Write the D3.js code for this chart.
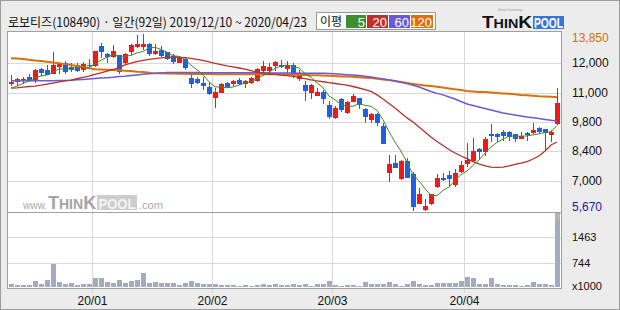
<!DOCTYPE html>
<html><head><meta charset="utf-8">
<script src="https://cdn.jsdelivr.net/npm/d3@7/dist/d3.min.js"></script>
<style>html,body{margin:0;padding:0;background:#ececec;}svg{display:block;}</style>
</head><body><svg id="c" width="620" height="310"></svg>
<script>
// ---------- data ----------
const title = "로보티즈(108490) · 일간(92일) 2019/12/10 ~ 2020/04/23";
const dates = [
"2019-12-10","2019-12-11","2019-12-12","2019-12-13","2019-12-16","2019-12-17","2019-12-18","2019-12-19","2019-12-20","2019-12-23","2019-12-24","2019-12-26","2019-12-27","2019-12-30",
"2020-01-02","2020-01-03","2020-01-06","2020-01-07","2020-01-08","2020-01-09","2020-01-10","2020-01-13","2020-01-14","2020-01-15","2020-01-16","2020-01-17","2020-01-20","2020-01-21","2020-01-22","2020-01-23","2020-01-28","2020-01-29","2020-01-30","2020-01-31",
"2020-02-03","2020-02-04","2020-02-05","2020-02-06","2020-02-07","2020-02-10","2020-02-11","2020-02-12","2020-02-13","2020-02-14","2020-02-17","2020-02-18","2020-02-19","2020-02-20","2020-02-21","2020-02-24","2020-02-25","2020-02-26","2020-02-27","2020-02-28",
"2020-03-02","2020-03-03","2020-03-04","2020-03-05","2020-03-06","2020-03-09","2020-03-10","2020-03-11","2020-03-12","2020-03-13","2020-03-16","2020-03-17","2020-03-18","2020-03-19","2020-03-20","2020-03-23","2020-03-24","2020-03-25","2020-03-26","2020-03-27","2020-03-30","2020-03-31",
"2020-04-01","2020-04-02","2020-04-03","2020-04-06","2020-04-07","2020-04-08","2020-04-09","2020-04-10","2020-04-13","2020-04-14","2020-04-16","2020-04-17","2020-04-20","2020-04-21","2020-04-22","2020-04-23"];
const open  = [11570,11670,11710,11870,11710,12240,12180,12020,12360,12500,12330,12420,12240,12420,12410,13290,12910,12840,12870,12560,13070,13310,13290,13390,12980,13110,13000,12840,12560,12690,11790,11760,11590,11400,10940,11170,11590,11560,11710,11560,11630,11710,12180,12180,12400,12420,12270,12420,11820,11480,11170,11020,11170,10550,10010,10830,10240,10750,10860,10360,9890,10130,9570,7450,7870,7140,7950,7340,6010,5700,6010,6800,7170,7300,6880,7500,7870,7990,8490,8430,9200,9200,9310,9310,9190,9030,9260,9310,9480,9420,9200,9730];
const high  = [11950,11820,11870,11990,12220,12280,12400,13010,12490,12600,12490,12490,12550,12670,13070,13420,12980,13340,12890,12950,13370,13800,13850,13450,13370,13290,13030,12920,12830,12720,12050,11870,11840,11630,11350,11590,11630,11710,11790,11710,11870,12260,12600,12490,12600,12640,12600,12490,12180,11680,11510,11330,11250,10750,10500,10860,10740,11050,10890,10400,10160,10160,9700,8230,8230,7990,8070,7450,6680,6170,6410,7340,7400,7500,7560,7960,8770,9000,8540,9050,9650,9260,9390,9340,9200,9310,9310,9700,9540,9450,9390,11350];
const low   = [11480,11480,11590,11670,11630,11940,11980,12020,12050,12020,12130,12140,12140,12330,12380,12800,12530,12800,12050,12490,12910,13260,13140,12870,12920,12830,12690,12490,12550,12210,11400,11560,11280,11050,10470,11140,11400,11480,11510,11400,11590,11680,12100,12100,12180,12330,12050,11870,11710,10780,10890,11020,10660,9930,9960,10270,10190,10740,10430,9770,9770,9620,8790,7030,7680,7110,7220,5670,5980,5670,5950,6750,7060,6830,6800,7450,7720,7950,8070,8230,8890,8880,8920,8920,8890,9000,8920,9260,9310,8510,8880,9670];
const close = [11620,11760,11760,11710,12180,12080,12000,12420,12470,12140,12210,12180,12460,12400,13060,13070,12840,13060,12140,12920,13340,13390,13390,12980,13060,12860,12720,12600,12800,12330,11560,11630,11480,11120,11170,11530,11450,11670,11560,11670,11790,12210,12360,12330,12560,12360,12410,12050,11980,11250,11480,11170,10890,10040,10400,10360,10700,10970,10600,10040,10130,9770,8800,7790,7680,7950,7220,5870,6410,5860,6400,7140,7120,7170,7380,7760,7990,8410,8430,8970,9160,9110,9160,9110,9000,9110,9200,9390,9360,9280,9290,10660];
const volume = [147,102,102,102,215,130,244,698,187,139,158,110,147,139,309,309,195,158,244,158,224,244,442,176,187,158,158,158,119,158,215,158,139,139,130,110,110,110,82,102,82,102,130,110,130,110,110,130,110,130,90,130,147,232,119,90,102,102,90,195,147,147,147,195,130,90,130,224,130,110,110,167,167,167,167,215,346,300,130,147,300,130,119,110,110,90,110,204,147,130,110,2182];
const ma5   = [11340,11430,11550,11670,11806,11898,11946,12078,12230,12222,12248,12284,12292,12278,12462,12634,12766,12886,12834,12806,12860,12970,13036,13204,13232,13136,13002,12844,12808,12662,12402,12184,11960,11624,11392,11386,11350,11388,11476,11576,11628,11780,11918,12072,12250,12364,12404,12342,12272,12010,11834,11586,11354,10966,10796,10572,10478,10494,10606,10534,10488,10302,9868,9306,8834,8398,7888,7302,7026,6662,6352,6336,6586,6738,7042,7314,7484,7742,7994,8312,8592,8816,8966,9102,9108,9098,9116,9162,9212,9268,9304,9596];
const ma20  = [11330,11350,11380,11410,11430,11470,11520,11570,11620,11670,11710,11770,11830,11890,11970,12040,12130,12200,12290,12410,12500,12570,12620,12670,12710,12740,12760,12770,12770,12750,12720,12670,12620,12550,12490,12430,12370,12320,12270,12220,12150,12080,12040,11990,11970,11940,11920,11880,11830,11780,11720,11670,11630,11590,11550,11510,11470,11410,11340,11270,11180,11020,10830,10620,10410,10180,9950,9760,9530,9300,9060,8850,8670,8480,8320,8180,8060,7920,7810,7720,7660,7650,7660,7720,7790,7850,7920,8040,8180,8410,8690,8830];
const ma60  = [11680,11680,11680,11680,11680,11680,11680,11680,11690,11690,11700,11720,11740,11760,11780,11800,11820,11840,11870,11890,11920,11950,11980,12000,12020,12040,12060,12060,12060,12060,12060,12060,12050,12050,12050,12050,12050,12050,12050,12050,12050,12050,12050,12040,12040,12040,12040,12040,12030,12030,12030,12020,12020,12010,12000,11980,11960,11940,11920,11890,11850,11800,11760,11710,11670,11610,11550,11470,11390,11280,11180,11090,11020,10920,10830,10710,10600,10530,10460,10390,10320,10250,10180,10130,10090,10040,9990,9960,9920,9880,9840,9810];
const ma120 = [12720,12710,12690,12650,12620,12600,12560,12530,12490,12450,12410,12360,12320,12260,12210,12200,12190,12180,12160,12140,12130,12100,12080,12050,12020,12020,12010,12010,12000,12000,11990,11990,11990,11990,11980,11980,11980,11980,11980,11980,11980,11980,11980,11980,11980,11980,11970,11960,11950,11940,11930,11930,11920,11910,11900,11880,11870,11860,11840,11820,11800,11770,11740,11710,11670,11620,11570,11530,11490,11460,11430,11400,11360,11320,11280,11250,11200,11180,11160,11150,11130,11110,11090,11070,11050,11020,11000,10980,10960,10950,10930,10910];
const priceTickLabels = ["5,670","7,000","8,400","9,800","11,000","12,000","13,850"];
const volBase = 25;
const volTickLabels = ["744","1463"];
const volUnit = "x1000";
const maNames  = ["5","20","60","120"];
const maColors = ["#3d8c26","#b8302a","#6a5ad6","#dc7008"];
const maLegendColors = ["#3f8f2a","#c0302a","#6a5ad8","#e07010"];

// ---------- drawing ----------
const svg = d3.select("#c");
const UP = "#ee1a1a", DOWN = "#1f5fe0";
const PL = 7, PR = 561, PT = 31, PSEP = 212, PB = 288;

svg.append("rect").attr("width",620).attr("height",310).attr("fill","#ececec");
svg.append("rect").attr("x",0.5).attr("y",0.5).attr("width",619).attr("height",309)
  .attr("fill","none").attr("stroke","#9c9c9c");
svg.append("rect").attr("x",PL).attr("y",PT).attr("width",PR-PL).attr("height",PB-PT).attr("fill","#fff");

const x = d3.scaleBand().domain(dates).range([8,560]);
const yP = d3.scaleLinear().domain([d3.min(low), d3.max(high)]).range([210,34]);
const yV = d3.scaleLinear().domain([volBase, d3.max(volume)]).range([PB,PSEP]);
const cx = d => x(d) + 3.5;
const crisp = v => Math.round(v) + 0.5;

// gridlines
const grid = svg.append("g").attr("stroke","#d9d9d9").attr("stroke-width",1);
const pd = yP.domain();
const priceTicks = d3.range(7).map(k => pd[0] + k*(pd[1]-pd[0])/6);
priceTicks.slice(1,6).forEach(v => grid.append("line").attr("x1",PL).attr("x2",PR)
  .attr("y1",crisp(yP(v))).attr("y2",crisp(yP(v))));
const vd = yV.domain();
const volTicks = [1,2].map(k => vd[0] + k*(vd[1]-vd[0])/3);
volTicks.forEach(v => grid.append("line").attr("x1",PL).attr("x2",PR)
  .attr("y1",crisp(yV(v))).attr("y2",crisp(yV(v))));
const monthStarts = dates.filter((d,i) => i>0 && d.slice(5,7) !== dates[i-1].slice(5,7));
monthStarts.forEach(d => grid.append("line").attr("x1",crisp(x(d))).attr("x2",crisp(x(d)))
  .attr("y1",PT).attr("y2",293));

// watermark
const wm = svg.append("g").attr("font-family","'Liberation Sans',Arial,sans-serif").attr("fill","#a9a9a9");
wm.append("text").attr("x",23).attr("y",209).attr("font-size",10).text("www.");
const wt = wm.append("text").attr("x",48).attr("y",209).attr("font-weight","bold").attr("fill","#a4a4a4");
wt.append("tspan").attr("font-size",18).text("T");
wt.append("tspan").attr("font-size",14).text("HIN");
wt.append("tspan").attr("font-size",18).text("K");
wm.append("rect").attr("x",97).attr("y",195).attr("width",40).attr("height",15).attr("fill","#cdcdcd");
wm.append("text").attr("x",117).attr("y",209).attr("text-anchor","middle").attr("font-size",15)
  .attr("font-weight","bold").attr("fill","#f4f4f4").attr("textLength",37).attr("lengthAdjust","spacingAndGlyphs").text("POOL");
wm.append("text").attr("x",139).attr("y",209).attr("font-size",11).text(".com");

// volume bars
svg.append("g").selectAll("rect").data(dates).join("rect")
  .attr("x", d => x(d)+1).attr("width",5)
  .attr("y",(d,i) => Math.round(yV(volume[i])))
  .attr("height",(d,i) => Math.max(1, 287 - Math.round(yV(volume[i]))))
  .attr("fill","#a3abc2");

// candles
const cg = svg.append("g");
dates.forEach((d,i) => {
  const up = close[i] >= open[i];
  const col = up ? UP : DOWN;
  cg.append("line").attr("x1",cx(d)).attr("x2",cx(d))
    .attr("y1",Math.round(yP(high[i]))).attr("y2",Math.round(yP(low[i]))+1)
    .attr("stroke",col).attr("stroke-width",1);
  const yt = Math.round(yP(Math.max(open[i],close[i])));
  const yb = Math.round(yP(Math.min(open[i],close[i])));
  cg.append("rect").attr("x",x(d)+1).attr("width",5).attr("y",yt)
    .attr("height",Math.max(1,yb-yt+1)).attr("fill",col);
});

// moving averages
svg.append("clipPath").attr("id","pc").append("rect").attr("x",PL).attr("y",PT).attr("width",PR-PL).attr("height",PSEP-PT);
const mg = svg.append("g").attr("clip-path","url(#pc)");
const maSeries = [ma120, ma60, ma20, ma5];
const maColorOrder = [maColors[3], maColors[2], maColors[1], maColors[0]];
const maWidths = [2, 1.5, 1.3, 1];
maSeries.forEach((s,k) => {
  mg.append("path").datum(s)
    .attr("d", d3.line().x((v,i) => x(dates[i]) + 3).y(v => yP(v)))
    .attr("fill","none").attr("stroke",maColorOrder[k]).attr("stroke-width",maWidths[k]);
});

// frame lines
const fr = svg.append("g").attr("stroke","#a0a0a0").attr("stroke-width",1);
fr.append("line").attr("x1",PL+0.5).attr("x2",PL+0.5).attr("y1",PT).attr("y2",PB+1);
fr.append("line").attr("x1",PR+0.5).attr("x2",PR+0.5).attr("y1",PT).attr("y2",PB+1);
fr.append("line").attr("x1",PL).attr("x2",PR+1).attr("y1",PT+0.5).attr("y2",PT+0.5);
fr.append("line").attr("x1",PL).attr("x2",PR+1).attr("y1",PSEP+0.5).attr("y2",PSEP+0.5);
fr.append("line").attr("x1",PL).attr("x2",PR+1).attr("y1",PB+0.5).attr("y2",PB+0.5);
svg.append("rect").attr("x",555).attr("y",214).attr("width",5).attr("height",6).attr("fill","#b4b4b4");

// right axis labels
const ax = svg.append("g").attr("font-family","'Liberation Sans',Arial,sans-serif").attr("font-size",12)
  .attr("dominant-baseline","central");
priceTicks.forEach((v,k) => {
  ax.append("text").attr("x",572).attr("y",Math.max(37.5, Math.min(207, yP(v))))
    .attr("fill", k===0 ? "#1818b0" : (k===6 ? "#d2700a" : "#111"))
    .text(priceTickLabels[k]);
});
volTicks.forEach((v,k) => ax.append("text").attr("x",572).attr("y",yV(v)).attr("fill","#111").attr("font-size",11).text(volTickLabels[k]));
ax.append("text").attr("x",572).attr("y",yV(vd[0])-2).attr("fill","#111").attr("font-size",11).text(volUnit);

// x labels
const xl = svg.append("g").attr("font-family","'Liberation Sans',Arial,sans-serif").attr("font-size",12)
  .attr("text-anchor","middle").attr("fill","#111");
monthStarts.forEach(d => xl.append("text").attr("x",x(d)+0.5).attr("y",305).text(d.slice(2,4)+"/"+d.slice(5,7)));

// header
svg.append("text").attr("x",8).attr("y",27).attr("font-family","'Noto Sans CJK KR',sans-serif")
  .attr("font-size",12.5).attr("fill","#111").attr("textLength",299).attr("lengthAdjust","spacingAndGlyphs").text(title);
svg.append("rect").attr("x",316.5).attr("y",12.5).attr("width",119).attr("height",17).attr("fill","#fff").attr("stroke","#999");
svg.append("text").attr("x",320).attr("y",26).attr("font-family","'Noto Sans CJK KR',sans-serif").attr("font-size",12).attr("fill","#111").text("이평");
const legX = [346, 367, 389, 411], legW = [20, 21, 21, 22];
maNames.forEach((n,k) => {
  svg.append("rect").attr("x",legX[k]).attr("y",15).attr("width",legW[k]).attr("height",13).attr("fill",maLegendColors[k]);
  svg.append("text").attr("x",legX[k]+legW[k]-1).attr("y",26.5).attr("text-anchor","end")
    .attr("font-family","'Liberation Sans',Arial,sans-serif").attr("font-size",13).attr("fill","#fff").text(n);
});
// logo
const lg = svg.append("g").attr("font-family","'Liberation Sans',Arial,sans-serif").attr("font-weight","bold");
const lt = lg.append("text").attr("x",482).attr("y",28).attr("fill","#111").attr("textLength",50).attr("lengthAdjust","spacingAndGlyphs");
lt.append("tspan").attr("font-size",16).text("T");
lt.append("tspan").attr("font-size",12).text("HIN");
lt.append("tspan").attr("font-size",16).text("K");
lg.append("rect").attr("x",533).attr("y",16).attr("width",31).attr("height",13).attr("fill","#3576d8");
lg.append("text").attr("x",548.5).attr("y",28).attr("text-anchor","middle").attr("font-size",14).attr("fill","#fff")
  .attr("textLength",29).attr("lengthAdjust","spacingAndGlyphs").text("POOL");
lg.append("text").attr("x",498).attr("y",11).attr("font-size",3.5).attr("font-weight","normal").attr("fill","#999").text("Smart Investing");
</script></body></html>
